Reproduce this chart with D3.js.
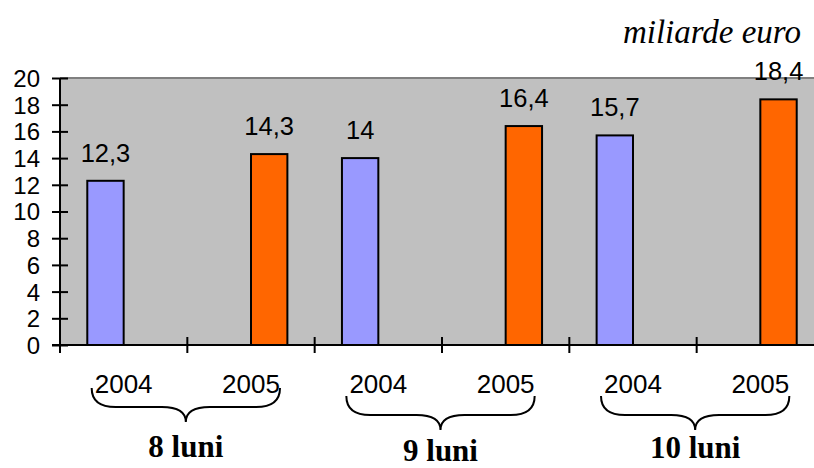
<!DOCTYPE html>
<html><head><meta charset="utf-8">
<script src="https://cdn.jsdelivr.net/npm/d3@7"></script>
<style>html,body{margin:0;padding:0;background:#fff;overflow:hidden}</style>
</head><body>
<svg id="c" width="814" height="468"></svg>
<script>
const categories = ["2004","2005","2004","2005","2004","2005"];
const seriesNames = ["2004","2005"];
const values2004 = [12.3, null, 14, null, 15.7, null];
const values2005 = [null, 14.3, null, 16.4, null, 18.4];
const yTicks = [0,2,4,6,8,10,12,14,16,18,20];
const groupLabels = ["8 luni","9 luni","10 luni"];
const unitLabel = "miliarde euro";
const colors = {"2004":"#9999FF","2005":"#FF6600"};

const svg = d3.select("#c");
const L = 60, R = 824, T = 78, B = 345;
const idx = d3.range(categories.length);
const x = d3.scaleBand().domain(idx).range([L, R]).paddingInner(0).paddingOuter(0);
const x1 = d3.scaleBand().domain(seriesNames).range([0, x.bandwidth()]).paddingInner(0).paddingOuter(0.75);
const y = d3.scaleLinear().domain([0, 20]).range([B, T]);
const fmt = v => String(v).replace(".", ",");
const SANS = "'Liberation Sans', Arial, sans-serif";
const SERIF = "'Liberation Serif', 'Times New Roman', serif";

// plot area
svg.append("rect").attr("x", L).attr("y", T).attr("width", R - L).attr("height", B - T)
  .attr("fill", "#C0C0C0");
svg.append("line").attr("x1", L).attr("x2", R).attr("y1", T).attr("y2", T)
  .attr("stroke", "#808080").attr("stroke-width", 2);

// bars
const rows = [];
idx.forEach(i => {
  if (values2004[i] != null) rows.push({i, s: "2004", v: values2004[i]});
  if (values2005[i] != null) rows.push({i, s: "2005", v: values2005[i]});
});
svg.append("g").selectAll("rect").data(rows).join("rect")
  .attr("x", d => x(d.i) + x1(d.s))
  .attr("y", d => y(d.v))
  .attr("width", x1.bandwidth())
  .attr("height", d => y(0) - y(d.v))
  .attr("fill", d => colors[d.s])
  .attr("stroke", "#000").attr("stroke-width", 2);

svg.append("g").selectAll("text").data(rows).join("text")
  .attr("x", d => x(d.i) + x1(d.s) + x1.bandwidth() / 2)
  .attr("y", d => y(d.v) - 19)
  .attr("text-anchor", "middle")
  .attr("font-family", SANS)
  .attr("font-size", 25.5)
  .attr("fill", "#000")
  .text(d => fmt(d.v));

// y axis
const yAxis = svg.append("g").attr("transform", `translate(${L},0)`)
  .call(d3.axisLeft(y).tickValues(yTicks).tickSize(8).tickPadding(12).tickFormat(d => d));
yAxis.select(".domain").attr("stroke", "#000").attr("stroke-width", 2).attr("d", `M0,${T}V${B}`);
yAxis.selectAll(".tick line").attr("stroke", "#000").attr("stroke-width", 2).attr("x1", 8).attr("x2", -8);
yAxis.selectAll(".tick text").attr("font-family", SANS)
  .attr("font-size", 24).attr("fill", "#000").attr("x", -20).attr("dy", "0.35em");

// x axis
const boundaries = idx.map(i => x(i));
const xAxis = svg.append("g").attr("transform", `translate(0,${B})`);
xAxis.append("line").attr("x1", L - 8).attr("x2", R).attr("y1", 0).attr("y2", 0)
  .attr("stroke", "#000").attr("stroke-width", 2);
xAxis.selectAll("line.tk").data(boundaries).join("line").attr("class", "tk")
  .attr("x1", d => d).attr("x2", d => d).attr("y1", -8).attr("y2", 8)
  .attr("stroke", "#000").attr("stroke-width", 2);
xAxis.selectAll("text").data(idx).join("text")
  .attr("x", i => x(i) + x.bandwidth() / 2)
  .attr("y", 48)
  .attr("text-anchor", "middle")
  .attr("font-family", SANS)
  .attr("font-size", 26).attr("fill", "#000")
  .text(i => categories[i]);

// braces and group labels
const braceTops = [388, 396, 396];
const labelBase = [457, 461, 458];
groupLabels.forEach((g, k) => {
  const c1 = x(2 * k) + x.bandwidth() / 2, c2 = x(2 * k + 1) + x.bandwidth() / 2;
  const xl = c1 - 32, xr = c2 + 29, xm = (xl + xr) / 2;
  const yt = braceTops[k], ym = yt + 19, yp = ym + 15, r = 24;
  const p = d3.path();
  p.moveTo(xl, yt);
  p.quadraticCurveTo(xl, ym, xl + r, ym);
  p.lineTo(xm - r, ym);
  p.quadraticCurveTo(xm, ym, xm, yp);
  p.quadraticCurveTo(xm, ym, xm + r, ym);
  p.lineTo(xr - r, ym);
  p.quadraticCurveTo(xr, ym, xr, yt);
  svg.append("path").attr("d", p.toString()).attr("fill", "none")
    .attr("stroke", "#000").attr("stroke-width", 2);
  svg.append("text").attr("x", xm).attr("y", labelBase[k])
    .attr("text-anchor", "middle")
    .attr("font-family", SERIF)
    .attr("font-weight", "bold").attr("font-size", 31).attr("fill", "#000")
    .text(g);
});

svg.append("text").attr("x", 801).attr("y", 43).attr("text-anchor", "end")
  .attr("font-family", SERIF)
  .attr("font-style", "italic").attr("font-size", 33).attr("fill", "#000")
  .text(unitLabel);
</script>
</body></html>
